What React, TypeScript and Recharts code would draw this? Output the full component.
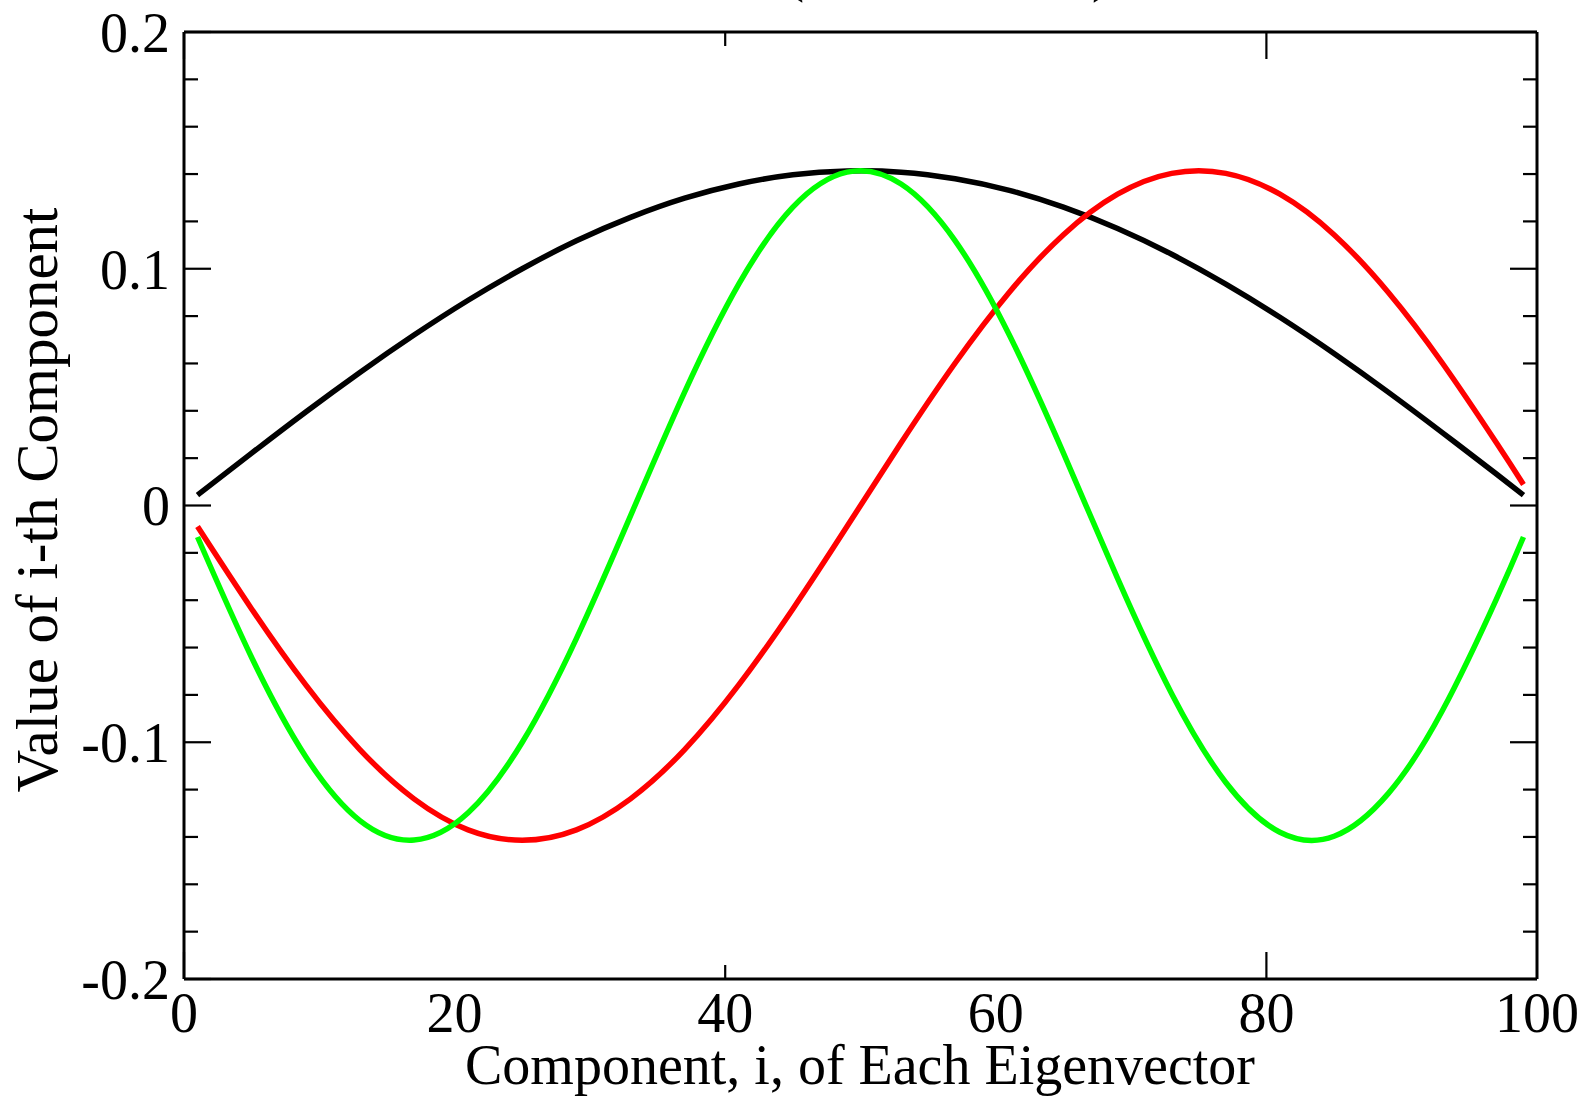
import React from "react";
import { LineChart, Line, XAxis, YAxis } from "recharts";

// Component index i (sampled along each eigenvector)
const componentIndex = [1, 5, 9, 13, 17, 21, 25, 29, 33, 37, 41, 45, 49, 53, 57, 61, 65, 69, 73, 77, 81, 85, 89, 93, 97, 99];

// Eigenvector 1 (black)
const blackValues = [0.0044, 0.0221, 0.0395, 0.0562, 0.072, 0.0867, 0.1, 0.1118, 0.1217, 0.1298, 0.1358, 0.1397, 0.1413, 0.1408, 0.138, 0.1331, 0.126, 0.117, 0.1061, 0.0935, 0.0795, 0.0642, 0.0479, 0.0308, 0.0133, 0.0044];

// Eigenvector 2 (red)
const redValues = [-0.0089, -0.0437, -0.0758, -0.1031, -0.1239, -0.137, -0.1414, -0.137, -0.1239, -0.1031, -0.0758, -0.0437, -0.0089, 0.0265, 0.0602, 0.0901, 0.1144, 0.1315, 0.1403, 0.1403, 0.1315, 0.1144, 0.0901, 0.0602, 0.0265, 0.0089];

// Eigenvector 3 (green)
const greenValues = [-0.0133, -0.0642, -0.1061, -0.1331, -0.1413, -0.1298, -0.1, -0.0562, -0.0044, 0.0479, 0.0935, 0.126, 0.1408, 0.1358, 0.1118, 0.072, 0.0221, -0.0308, -0.0795, -0.117, -0.138, -0.1397, -0.1217, -0.0867, -0.0395, -0.0133];

const xMajorTicks = [0, 20, 40, 60, 80, 100];
const xMinorTicks = [10, 30, 50, 70, 90];
const yMajorTicks = [-0.2, -0.1, 0, 0.1, 0.2];
const yMinorTicks = [-0.18, -0.16, -0.14, -0.12, -0.08, -0.06, -0.04, -0.02, 0.02, 0.04, 0.06, 0.08, 0.12, 0.14, 0.16, 0.18];

const titleText = "A([-1, 2, -1], 99)";
const xTitle = "Component, i, of Each Eigenvector";
const yTitle = "Value of i-th Component";

const data = componentIndex.map((i, k) => ({
  i,
  black: blackValues[k],
  red: redValues[k],
  green: greenValues[k],
}));

const FONT = "'Liberation Serif', 'Times New Roman', serif";
const W = 1585;
const H = 1096;
const xDomain: [number, number] = [0, 100];
const yDomain: [number, number] = [-0.2, 0.2];
const lineStyle = { stroke: "#000", strokeWidth: 3 };
const tickStyle = { stroke: "#000", strokeWidth: 2.2 };
const noLabel = () => "";
const hiddenTick = { fontSize: 1, fill: "none" };

export default function App() {
  return (
    <div style={{ position: "absolute", left: 0, top: 0, width: W, height: H, background: "#fff", overflow: "hidden" }}>
      <LineChart width={W} height={H} data={data} margin={{ top: 32, right: 48, bottom: 0, left: 0 }}>
        {/* main axes with labels */}
        <XAxis
          dataKey="i"
          type="number"
          domain={xDomain}
          allowDataOverflow
          ticks={xMajorTicks}
          interval={0}
          height={117}
          tickSize={0}
          tickMargin={13}
          tickLine={false}
          axisLine={lineStyle}
          tick={{ fill: "#000", fontSize: 56, fontFamily: FONT }}
        />
        <YAxis
          type="number"
          domain={yDomain}
          allowDataOverflow
          ticks={yMajorTicks}
          interval={0}
          width={184}
          tickSize={0}
          tickMargin={14}
          tickLine={false}
          axisLine={lineStyle}
          tick={{ fill: "#000", fontSize: 56, fontFamily: FONT }}
        />
        {/* inward tick marks */}
        <XAxis xAxisId="bMaj" type="number" domain={xDomain} allowDataOverflow ticks={xMajorTicks} interval={0} orientation="bottom" mirror height={1} tickSize={27} tickFormatter={noLabel} tick={hiddenTick} axisLine={false} tickLine={tickStyle} />
        <XAxis xAxisId="bMin" type="number" domain={xDomain} allowDataOverflow ticks={xMinorTicks} interval={0} orientation="bottom" mirror height={1} tickSize={13} tickFormatter={noLabel} tick={hiddenTick} axisLine={false} tickLine={tickStyle} />
        <XAxis xAxisId="tMaj" type="number" domain={xDomain} allowDataOverflow ticks={xMajorTicks} interval={0} orientation="top" mirror height={1} tickSize={27} tickFormatter={noLabel} tick={hiddenTick} axisLine={lineStyle} tickLine={tickStyle} />
        <XAxis xAxisId="tMin" type="number" domain={xDomain} allowDataOverflow ticks={xMinorTicks} interval={0} orientation="top" mirror height={1} tickSize={13} tickFormatter={noLabel} tick={hiddenTick} axisLine={false} tickLine={tickStyle} />
        <YAxis yAxisId="lMaj" type="number" domain={yDomain} allowDataOverflow ticks={yMajorTicks} interval={0} orientation="left" mirror width={1} tickSize={27} tickFormatter={noLabel} tick={hiddenTick} axisLine={false} tickLine={tickStyle} />
        <YAxis yAxisId="lMin" type="number" domain={yDomain} allowDataOverflow ticks={yMinorTicks} interval={0} orientation="left" mirror width={1} tickSize={13} tickFormatter={noLabel} tick={hiddenTick} axisLine={false} tickLine={tickStyle} />
        <YAxis yAxisId="rMaj" type="number" domain={yDomain} allowDataOverflow ticks={yMajorTicks} interval={0} orientation="right" mirror width={1} tickSize={27} tickFormatter={noLabel} tick={hiddenTick} axisLine={lineStyle} tickLine={tickStyle} />
        <YAxis yAxisId="rMin" type="number" domain={yDomain} allowDataOverflow ticks={yMinorTicks} interval={0} orientation="right" mirror width={1} tickSize={13} tickFormatter={noLabel} tick={hiddenTick} axisLine={false} tickLine={tickStyle} />

        <Line dataKey="black" type="natural" stroke="#000000" strokeWidth={5.5} dot={false} isAnimationActive={false} />
        <Line dataKey="red" type="natural" stroke="#ff0000" strokeWidth={5.5} dot={false} isAnimationActive={false} />
        <Line dataKey="green" type="natural" stroke="#00ff00" strokeWidth={5.5} dot={false} isAnimationActive={false} />
      </LineChart>
      <svg width={W} height={H} style={{ position: "absolute", left: 0, top: 0, pointerEvents: "none" }}>
        <text x={747} y={-9} fontFamily={FONT} fontSize={54} fill="#000">{titleText}</text>
        <text x={860} y={1084} fontFamily={FONT} fontSize={56} fill="#000" textAnchor="middle">{xTitle}</text>
        <text transform="rotate(-90)" x={-500} y={57} fontFamily={FONT} fontSize={59} fill="#000" textAnchor="middle">{yTitle}</text>
      </svg>
    </div>
  );
}
